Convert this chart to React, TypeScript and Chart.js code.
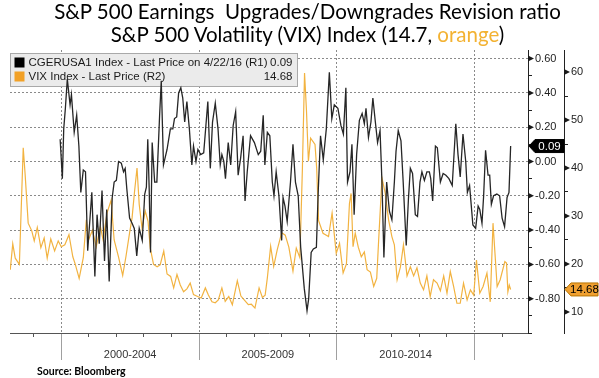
import React, { useEffect, useRef } from 'react';
import { Chart, registerables } from 'chart.js';

Chart.register(...registerables);

const TITLE_LINE_1 = 'S&P 500 Earnings  Upgrades/Downgrades Revision ratio';
const TITLE_LINE_2_PREFIX = 'S&P 500 Volatility (VIX) Index (14.7, ';
const TITLE_LINE_2_HIGHLIGHT = 'orange';
const TITLE_LINE_2_SUFFIX = ')';
const SOURCE_TEXT = 'Source: Bloomberg';

const CGER_NAME = 'CGERUSA1 Index - Last Price on 4/22/16 (R1)';
const VIX_NAME = 'VIX Index - Last Price (R2)';

// CGERUSA1 (earnings revision ratio), decimal years
const CGER_DATES = [
  1999.96, 2000.04, 2000.09, 2000.15, 2000.22, 2000.32, 2000.37, 2000.47, 2000.56, 2000.64,
  2000.71, 2000.80, 2000.88, 2000.96, 2001.11, 2001.22, 2001.30, 2001.38, 2001.48, 2001.57,
  2001.65, 2001.74, 2001.85, 2001.92, 2002.00, 2002.08, 2002.18, 2002.26, 2002.32, 2002.38,
  2002.48, 2002.57, 2002.65, 2002.74, 2002.83, 2002.94, 2003.03, 2003.09, 2003.14, 2003.19,
  2003.24, 2003.30, 2003.39, 2003.47, 2003.57, 2003.63, 2003.71, 2003.84, 2003.96, 2004.05,
  2004.11, 2004.19, 2004.26, 2004.34, 2004.41, 2004.48, 2004.56, 2004.65, 2004.74, 2004.80,
  2004.89, 2004.96, 2005.06, 2005.17, 2005.25, 2005.32, 2005.41, 2005.49, 2005.59, 2005.69,
  2005.77, 2005.83, 2005.90, 2005.96, 2006.06, 2006.15, 2006.24, 2006.33, 2006.42, 2006.51,
  2006.60, 2006.67, 2006.75, 2006.87, 2007.01, 2007.15, 2007.24, 2007.33, 2007.39, 2007.48,
  2007.57, 2007.66, 2007.72, 2007.80, 2007.90, 2008.00, 2008.05, 2008.12, 2008.20, 2008.32,
  2008.41, 2008.50, 2008.60, 2008.69, 2008.82, 2008.92, 2008.98, 2009.07, 2009.15, 2009.26,
  2009.33, 2009.41, 2009.51, 2009.62, 2009.73, 2009.82, 2009.91, 2010.04, 2010.15, 2010.24,
  2010.33, 2010.39, 2010.48, 2010.55, 2010.63, 2010.72, 2010.82, 2010.92, 2011.00, 2011.06,
  2011.15, 2011.24, 2011.31, 2011.40, 2011.48, 2011.57, 2011.64, 2011.71, 2011.81, 2011.91,
  2012.00, 2012.09, 2012.15, 2012.23, 2012.33, 2012.41, 2012.52, 2012.60, 2012.67, 2012.75,
  2012.85, 2012.93, 2013.02, 2013.09, 2013.18, 2013.27, 2013.36, 2013.41, 2013.48, 2013.58,
  2013.65, 2013.76, 2013.86, 2013.96, 2014.07, 2014.19, 2014.32, 2014.40, 2014.48, 2014.58,
  2014.68, 2014.74, 2014.82, 2014.94, 2015.04, 2015.13, 2015.19, 2015.27, 2015.33, 2015.40,
  2015.49, 2015.55, 2015.61, 2015.69, 2015.81, 2015.91, 2016.00, 2016.09, 2016.18, 2016.25,
  2016.31,
];
const CGER_VALUES = [
  0.13, -0.10, 0.19, 0.31, 0.48, 0.33, 0.39, 0.17, 0.27, 0.09,
  -0.18, -0.05, -0.06, -0.52, -0.18, -0.67, -0.31, -0.48, -0.17, -0.58,
  -0.28, -0.70, -0.21, -0.12, -0.11, 0.00, -0.01, -0.06, -0.04, -0.16,
  -0.33, -0.36, -0.39, -0.55, -0.39, -0.46, -0.19, -0.15, 0.13, -0.15,
  -0.53, 0.11, -0.12, -0.12, 0.27, 0.47, -0.02, 0.07, 0.19, 0.19,
  0.25, 0.26, 0.40, 0.43, 0.37, 0.23, 0.35, 0.19, -0.02, 0.09,
  0.00, 0.07, 0.04, 0.05, 0.21, 0.35, -0.04, 0.23, 0.34, 0.19,
  -0.02, 0.04, 0.00, -0.10, 0.11, -0.02, 0.21, 0.29, -0.08, 0.02,
  0.15, -0.23, -0.06, 0.15, 0.11, 0.04, 0.06, 0.27, -0.02, 0.17,
  0.15, -0.12, -0.20, -0.06, -0.20, -0.46, -0.21, -0.26, -0.35, -0.12,
  0.10, -0.12, -0.20, -0.50, -0.74, -0.87, -0.80, -0.53, -0.51, -0.50,
  -0.16, 0.15, 0.01, 0.19, 0.52, 0.25, 0.33, 0.31, 0.21, 0.16,
  0.43, -0.12, -0.06, 0.10, -0.31, 0.04, 0.24, 0.28, 0.22, 0.31,
  0.14, 0.23, 0.37, 0.23, 0.11, 0.18, -0.12, -0.56, -0.12, -0.29,
  -0.34, -0.12, 0.06, 0.18, 0.12, -0.12, -0.49, -0.22, -0.04, -0.07,
  -0.31, -0.32, -0.12, -0.06, -0.11, -0.06, -0.06, -0.10, -0.23, 0.09,
  0.08, -0.12, -0.07, -0.08, -0.10, -0.14, 0.22, 0.04, -0.09, 0.16,
  0.00, -0.18, -0.14, -0.37, -0.39, -0.26, -0.28, -0.36, -0.20, 0.065,
  -0.08, -0.08, -0.25, -0.20, -0.19, -0.20, -0.33, -0.38, -0.21, -0.18,
  0.09,
];

// VIX index, decimal years
const VIX_DATES = [
  1998.15, 1998.24, 1998.33, 1998.48, 1998.62, 1998.69, 1998.80, 1998.93, 1999.02, 1999.13,
  1999.26, 1999.38, 1999.49, 1999.62, 1999.76, 1999.89, 2000.00, 2000.13, 2000.28, 2000.42,
  2000.51, 2000.65, 2000.80, 2000.91, 2000.99, 2001.13, 2001.27, 2001.42, 2001.52, 2001.66,
  2001.81, 2001.92, 2002.08, 2002.23, 2002.35, 2002.47, 2002.57, 2002.66, 2002.75, 2002.83,
  2002.93, 2003.05, 2003.15, 2003.23, 2003.35, 2003.48, 2003.59, 2003.72, 2003.84, 2003.97,
  2004.08, 2004.20, 2004.32, 2004.44, 2004.56, 2004.68, 2004.80, 2004.95, 2005.08, 2005.23,
  2005.34, 2005.47, 2005.59, 2005.70, 2005.83, 2005.95, 2006.08, 2006.21, 2006.39, 2006.52,
  2006.64, 2006.79, 2006.90, 2007.03, 2007.18, 2007.30, 2007.40, 2007.48, 2007.60, 2007.71,
  2007.84, 2008.00, 2008.13, 2008.26, 2008.41, 2008.53, 2008.66, 2008.75, 2008.83, 2008.90,
  2008.97, 2009.05, 2009.21, 2009.27, 2009.34, 2009.50, 2009.70, 2009.83, 2009.98, 2010.10,
  2010.23, 2010.35, 2010.46, 2010.52, 2010.59, 2010.67, 2010.78, 2010.89, 2011.00, 2011.10,
  2011.22, 2011.34, 2011.45, 2011.52, 2011.64, 2011.76, 2011.88, 2012.00, 2012.09, 2012.19,
  2012.31, 2012.42, 2012.55, 2012.67, 2012.79, 2012.91, 2013.03, 2013.15, 2013.27, 2013.39,
  2013.51, 2013.64, 2013.76, 2013.88, 2014.00, 2014.12, 2014.24, 2014.36, 2014.48, 2014.60,
  2014.73, 2014.85, 2014.97, 2015.07, 2015.19, 2015.31, 2015.45, 2015.57, 2015.67, 2015.82,
  2015.93, 2016.10, 2016.16, 2016.21, 2016.26, 2016.31,
];
const VIX_VALUES = [
  18.8, 24.2, 21.2, 19.9, 44.2, 38.6, 28.5, 26.9, 24.8, 27.6,
  23.4, 25.4, 21.2, 25.2, 22.7, 24.8, 23.6, 24.0, 26.1, 21.5,
  19.9, 17.0, 21.3, 29.2, 25.0, 27.0, 23.6, 27.8, 25.0, 30.6,
  33.3, 25.0, 21.4, 17.6, 21.6, 26.1, 29.6, 35.1, 40.0, 32.4,
  27.5, 31.0, 28.9, 23.3, 19.9, 19.4, 19.8, 22.7, 17.9, 17.4,
  15.0, 17.8, 15.6, 14.2, 14.8, 16.0, 13.6, 13.2, 12.9, 15.0,
  13.5, 12.1, 11.9, 12.5, 15.0, 12.2, 13.2, 11.5, 16.5, 13.3,
  12.5, 11.5, 11.6, 10.8, 15.0, 13.0, 13.5, 17.1, 23.7, 19.5,
  23.0, 26.5, 26.0, 23.5, 18.5, 23.3, 21.3, 39.4, 59.8, 52.0,
  41.4, 46.2, 44.9, 40.0, 29.0, 26.4, 25.7, 30.6, 22.2, 24.3,
  18.1, 20.0, 32.6, 34.7, 23.6, 26.4, 23.5, 21.5, 22.5, 18.8,
  18.3, 15.3, 17.0, 25.0, 37.9, 34.7, 29.2, 25.7, 24.0, 16.7,
  19.4, 24.0, 17.5, 19.4, 17.5, 19.2, 16.0, 14.6, 17.5, 13.2,
  16.7, 16.0, 14.4, 17.5, 13.9, 18.4, 15.3, 11.8, 11.8, 16.0,
  12.5, 14.6, 13.5, 20.8, 13.9, 15.3, 18.1, 12.1, 28.5, 15.3,
  16.7, 20.5, 20.2, 14.2, 15.6, 14.68,
];

// Axes / ticks
const YEAR_TICKS = [1999, 2000, 2001, 2002, 2003, 2004, 2005, 2006, 2007, 2008, 2009, 2010, 2011, 2012, 2013, 2014, 2015, 2016];
const PERIOD_BOUNDS = [2000, 2005, 2010, 2015];
const PERIOD_CENTERS = [2002.5, 2007.5, 2012.5];
const PERIOD_LABELS = ['2000-2004', '2005-2009', '2010-2014'];
const R1_TICKS = [-1.0, -0.9, -0.8, -0.7, -0.6, -0.5, -0.4, -0.3, -0.2, -0.1, 0, 0.1, 0.2, 0.3, 0.4, 0.5, 0.6];
const R1_LABELED = [-0.8, -0.6, -0.4, -0.2, 0, 0.2, 0.4, 0.6];
const R2_TICKS = [10, 15, 20, 25, 30, 35, 40, 45, 50, 55, 60];
const R2_LABELED = [10, 20, 30, 40, 50, 60];

const X_MIN = 1998.14;
const X_MAX = 2016.94;
const R1_MIN = -1.0;
const R1_MAX = 0.65;
const R2_MIN = 5.6;
const R2_MAX = 64.6;

const BLACK = '#262626';
const ORANGE_LINE = '#f2b341';
const ORANGE_FILL = '#f2a127';
const GRID = '#8a8a8a';
const CLEAR = 'rgba(0,0,0,0)';
const FONT = '"Liberation Sans", Arial, sans-serif';

const near = (list: number[], v: number) => list.some((l) => Math.abs(l - v) < 1e-6);

function drawTag(ctx: CanvasRenderingContext2D, x: number, y: number, w: number, fill: string, stroke: string, textColor: string, text: string) {
  const h = 6.5;
  ctx.beginPath();
  ctx.moveTo(x, y);
  ctx.lineTo(x + 6, y - h);
  ctx.lineTo(x + w, y - h);
  ctx.lineTo(x + w, y + h);
  ctx.lineTo(x + 6, y + h);
  ctx.closePath();
  ctx.fillStyle = fill;
  ctx.fill();
  ctx.strokeStyle = stroke;
  ctx.lineWidth = 1;
  ctx.stroke();
  ctx.fillStyle = textColor;
  ctx.font = '11.5px ' + FONT;
  ctx.textAlign = 'center';
  ctx.textBaseline = 'middle';
  ctx.fillText(text, x + 6 + (w - 6) / 2, y + 0.5);
}

const decorPlugin = {
  id: 'bbgDecor',
  beforeDatasetsDraw(chart: any) {
    const ctx: CanvasRenderingContext2D = chart.ctx;
    const left = chart.chartArea.left;
    const top = chart.chartArea.top;
    ctx.save();
    // legend box
    const bx = left + 0.5;
    const by = top + 3.5;
    const bw = 287;
    const bh = 33;
    ctx.fillStyle = '#ebebeb';
    ctx.fillRect(bx, by, bw, bh);
    ctx.strokeStyle = '#a9a9a9';
    ctx.lineWidth = 1;
    ctx.strokeRect(bx, by, bw, bh);
    ctx.fillStyle = '#000';
    ctx.fillRect(bx + 4, by + 4, 10, 10);
    ctx.fillStyle = ORANGE_FILL;
    ctx.fillRect(bx + 4, by + 18, 10, 10);
    ctx.fillStyle = '#1a1a1a';
    ctx.font = '11.5px ' + FONT;
    ctx.textBaseline = 'middle';
    ctx.textAlign = 'left';
    ctx.fillText(CGER_NAME, bx + 18, by + 9.5);
    ctx.fillText(VIX_NAME, bx + 18, by + 23.5);
    ctx.textAlign = 'right';
    ctx.fillText(CGER_VALUES[CGER_VALUES.length - 1].toFixed(2), bx + bw - 5, by + 9.5);
    ctx.fillText(VIX_VALUES[VIX_VALUES.length - 1].toFixed(2), bx + bw - 5, by + 23.5);
    ctx.restore();
  },
  afterDraw(chart: any) {
    const ctx: CanvasRenderingContext2D = chart.ctx;
    const y1 = chart.scales.y1;
    const y2 = chart.scales.y2;
    ctx.save();
    ctx.fillStyle = '#1a1a1a';
    const tri = (x: number, y: number) => {
      ctx.beginPath();
      ctx.moveTo(x, y - 3);
      ctx.lineTo(x + 6, y);
      ctx.lineTo(x, y + 3);
      ctx.closePath();
      ctx.fill();
    };
    R1_LABELED.forEach((v) => tri(y1.left, y1.getPixelForValue(v)));
    R2_LABELED.forEach((v) => tri(y2.left, y2.getPixelForValue(v)));
    const lastC = CGER_VALUES[CGER_VALUES.length - 1];
    drawTag(ctx, y1.left + 1, y1.getPixelForValue(lastC), 35, '#000', '#000', '#fff', lastC.toFixed(2));
    const lastV = VIX_VALUES[VIX_VALUES.length - 1];
    drawTag(ctx, y2.left + 1, y2.getPixelForValue(lastV), 33, '#f0a030', '#b87400', '#000', lastV.toFixed(2));
    ctx.restore();
  },
};

export default function App() {
  const canvasRef = useRef<HTMLCanvasElement>(null);

  useEffect(() => {
    Chart.defaults.font.family = FONT;
    const chart = new Chart(canvasRef.current as HTMLCanvasElement, {
      type: 'line',
      data: {
        datasets: [
          {
            label: CGER_NAME,
            data: CGER_DATES.map((d, i) => ({ x: d, y: CGER_VALUES[i] })),
            xAxisID: 'x',
            yAxisID: 'y1',
            borderColor: BLACK,
            borderWidth: 1.3,
            pointRadius: 0,
            tension: 0,
          },
          {
            label: VIX_NAME,
            data: VIX_DATES.map((d, i) => ({ x: d, y: VIX_VALUES[i] })),
            xAxisID: 'x',
            yAxisID: 'y2',
            borderColor: ORANGE_LINE,
            borderWidth: 1.2,
            pointRadius: 0,
            tension: 0,
          },
        ],
      },
      options: {
        animation: false,
        responsive: false,
        maintainAspectRatio: false,
        devicePixelRatio: 1,
        layout: { padding: { left: 10, top: 50, right: 5, bottom: 0 } },
        plugins: { legend: { display: false }, tooltip: { enabled: false } },
        scales: {
          x: {
            type: 'linear',
            position: 'bottom',
            weight: 0,
            min: X_MIN,
            max: X_MAX,
            afterBuildTicks: (s: any) => { s.ticks = YEAR_TICKS.map((v) => ({ value: v })); },
            afterFit: (s: any) => { s.height = 0; },
            ticks: { display: false },
            grid: {
              color: (c: any) => (c.tick && near(PERIOD_BOUNDS, c.tick.value) ? GRID : CLEAR),
              lineWidth: 1,
              drawTicks: true,
              tickLength: 4,
              tickColor: '#555',
            },
            border: { display: true, color: '#555', dash: [2, 2] },
          },
          x2: {
            type: 'linear',
            position: 'bottom',
            weight: 1,
            min: X_MIN,
            max: X_MAX,
            afterBuildTicks: (s: any) => {
              s.ticks = [...PERIOD_BOUNDS, ...PERIOD_CENTERS].sort((a, b) => a - b).map((v) => ({ value: v }));
            },
            afterFit: (s: any) => { s.height = 45; },
            ticks: {
              autoSkip: false,
              maxRotation: 0,
              minRotation: 0,
              padding: -12,
              color: '#333',
              font: { size: 11 },
              callback: (v: any) => {
                const i = PERIOD_CENTERS.findIndex((c) => Math.abs(c - Number(v)) < 1e-6);
                return i >= 0 ? PERIOD_LABELS[i] : '';
              },
            },
            grid: {
              drawOnChartArea: false,
              drawTicks: true,
              tickLength: 27,
              color: CLEAR,
              tickColor: (c: any) => (c.tick && near(PERIOD_BOUNDS, c.tick.value) ? '#a0a0a0' : CLEAR),
            },
            border: { display: false },
          },
          y1: {
            type: 'linear',
            position: 'right',
            weight: 0,
            min: R1_MIN,
            max: R1_MAX,
            afterBuildTicks: (s: any) => { s.ticks = R1_TICKS.map((v) => ({ value: v })); },
            afterFit: (s: any) => { s.width = 36; },
            ticks: {
              autoSkip: false,
              padding: 3,
              color: '#222',
              font: { size: 11 },
              callback: (v: any) => (near(R1_LABELED, Number(v)) ? Number(v).toFixed(2) : ''),
            },
            grid: {
              color: (c: any) => (c.tick && near(R1_LABELED, c.tick.value) ? GRID : CLEAR),
              lineWidth: 1,
              tickLength: 4,
              tickColor: '#222',
            },
            border: { display: true, color: '#222', dash: [2, 2] },
          },
          y2: {
            type: 'linear',
            position: 'right',
            weight: 1,
            min: R2_MIN,
            max: R2_MAX,
            afterBuildTicks: (s: any) => { s.ticks = R2_TICKS.map((v) => ({ value: v })); },
            afterFit: (s: any) => { s.width = 30; },
            ticks: {
              autoSkip: false,
              padding: 3,
              color: '#222',
              font: { size: 11 },
              callback: (v: any) => (near(R2_LABELED, Number(v)) ? String(v) : ''),
            },
            grid: { drawOnChartArea: false, tickLength: 4, tickColor: '#222', color: CLEAR },
            border: { display: true, color: '#222' },
          },
        },
      } as any,
      plugins: [decorPlugin],
    });
    return () => chart.destroy();
  }, []);

  return (
    <div style={{ position: 'absolute', left: 0, top: 0, width: 599, height: 378, background: '#fff', overflow: 'hidden' }}>
      <canvas ref={canvasRef} width={599} height={378} style={{ position: 'absolute', left: 0, top: 0, width: 599, height: 378 }} />
      <div
        style={{
          position: 'absolute', left: 8, top: 0, width: 599, textAlign: 'center',
          fontFamily: 'Lato, "Open Sans", sans-serif', fontSize: 20.5, lineHeight: '23px', color: '#000', whiteSpace: 'pre',
        }}
      >
        <div>{TITLE_LINE_1}</div>
        <div>
          {TITLE_LINE_2_PREFIX}
          <span style={{ color: '#f3b232' }}>{TITLE_LINE_2_HIGHLIGHT}</span>
          {TITLE_LINE_2_SUFFIX}
        </div>
      </div>
      <div
        style={{
          position: 'absolute', left: 37, top: 364, fontFamily: 'Lato, sans-serif', fontWeight: 700,
          fontSize: 10.5, lineHeight: '14px', color: '#000', whiteSpace: 'pre',
        }}
      >
        {SOURCE_TEXT}
      </div>
    </div>
  );
}
